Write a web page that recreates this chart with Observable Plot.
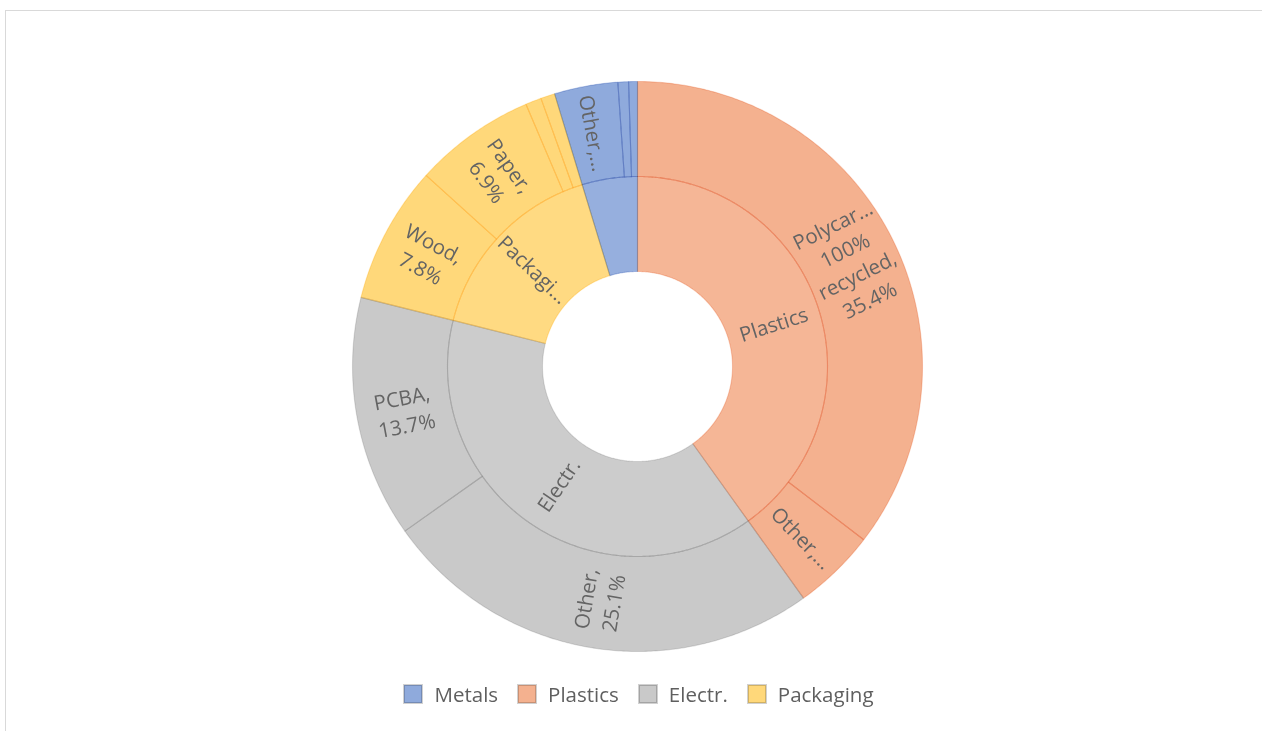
<!DOCTYPE html>
<html>
<head>
<meta charset="utf-8">
<script src="https://cdn.jsdelivr.net/npm/d3@7"></script>
<script src="https://cdn.jsdelivr.net/npm/@observablehq/plot@0.6"></script>
<style>
  html, body { margin: 0; padding: 0; background: #fff; }
  body { width: 1262px; height: 731px; position: relative; overflow: hidden; font-family: "Open Sans", sans-serif; }
  #frame { position: absolute; left: 5px; top: 10px; width: 1400px; height: 900px;
           border-left: 1px solid #d9d9d9; border-top: 1px solid #d9d9d9; }
  #chart { position: absolute; left: 0; top: 0; }
  #legend { position: absolute; left: 8px; top: 680px; width: 1262px; }
  #legend > div { justify-content: center; font: 20.5px "Open Sans", sans-serif !important; color: #5f5f5f !important; min-height: 28px !important; }
  #legend > div > span { margin-right: 20px !important; }
  #legend > div > span:last-child { margin-right: 0 !important; }
  #legend svg { margin-right: 12px !important; }
  #legend svg rect { stroke: rgba(0,0,0,0.18); stroke-width: 2px; }
</style>
</head>
<body>
<div id="frame"></div>
<div id="chart"></div>
<div id="legend"></div>
<script>
// ---- data ----
const groups = ["Metals", "Plastics", "Electr.", "Packaging"];
const groupFills = ["#8FAADC", "#F4B18F", "#C9C9C9", "#FFD87A"];

// inner ring, clockwise from 12 o'clock
const innerGroups = ["Plastics", "Electr.", "Packaging", "Metals"];
const innerLabels = ["Plastics", "Electr.", "Packagi...", ""];

// outer ring, clockwise from 12 o'clock
const itemGroups = ["Plastics", "Plastics", "Electr.", "Electr.", "Packaging", "Packaging", "Packaging", "Packaging", "Metals", "Metals", "Metals"];
const itemLabels = ["Polycar...\n100%\nrecycled,\n35.4%", "Other,...", "Other,\n25.1%", "PCBA,\n13.7%", "Wood,\n7.8%", "Paper,\n6.9%", "", "", "Other,...", "", ""];
const itemValues = [35.4, 4.7, 25.1, 13.7, 7.8, 6.9, 0.9, 0.8, 3.6, 0.6, 0.5];

// ---- geometry (unit radius) ----
const R_HOLE = 1 / 3, R_MID = 2 / 3, R_OUT = 1;
const total = d3.sum(itemValues);
let acc = 0;
const outerSegs = itemValues.map((v, i) => {
  const a0 = acc / total * 2 * Math.PI;
  acc += v;
  return { id: "o" + i, group: itemGroups[i], label: itemLabels[i], a0, a1: acc / total * 2 * Math.PI, r0: R_MID, r1: R_OUT };
});
const innerSegs = innerGroups.map((g, i) => {
  const mine = outerSegs.filter(s => s.group === g);
  return { id: "i" + i, group: g, label: innerLabels[i], a0: mine[0].a0, a1: mine[mine.length - 1].a1, r0: R_HOLE, r1: R_MID };
});

function polygon(s) {
  const n = Math.max(2, Math.ceil((s.a1 - s.a0) / (Math.PI / 360)));
  const pts = [];
  for (let k = 0; k <= n; k++) {
    const a = s.a0 + (s.a1 - s.a0) * k / n;
    pts.push({ id: s.id, group: s.group, x: s.r1 * Math.sin(a), y: -s.r1 * Math.cos(a) });
  }
  for (let k = n; k >= 0; k--) {
    const a = s.a0 + (s.a1 - s.a0) * k / n;
    pts.push({ id: s.id, group: s.group, x: s.r0 * Math.sin(a), y: -s.r0 * Math.cos(a) });
  }
  return pts;
}
function labelOf(s) {
  const a = (s.a0 + s.a1) / 2, r = (s.r0 + s.r1) / 2;
  let rot = a * 180 / Math.PI - 90;
  while (rot > 90) rot -= 180;
  while (rot < -90) rot += 180;
  return { text: s.label, x: r * Math.sin(a), y: -r * Math.cos(a), rotate: rot };
}

const innerPts = innerSegs.flatMap(polygon);
const outerPts = outerSegs.flatMap(polygon);
const labels = [...innerSegs, ...outerSegs].filter(s => s.label).map(labelOf);

const chart = Plot.plot({
  width: 1262,
  height: 672,
  margin: 0,
  style: { background: "transparent", overflow: "visible" },
  x: { domain: [-1, 1], range: [352, 922], axis: null },
  y: { domain: [-1, 1], range: [81, 651], axis: null },
  color: { domain: groups, range: groupFills },
  marks: [
    Plot.line(innerPts, { x: "x", y: "y", z: "id", fill: "group", fillOpacity: 0.94, stroke: "none", curve: "linear-closed" }),
    Plot.line(outerPts, { x: "x", y: "y", z: "id", fill: "group", stroke: "none", curve: "linear-closed" }),
    Plot.line([...innerPts, ...outerPts], { x: "x", y: "y", z: "id", fill: "none", stroke: "group", strokeWidth: 1.1, strokeOpacity: 0.55, mixBlendMode: "multiply", curve: "linear-closed" }),
    Plot.text(labels, { x: "x", y: "y", text: "text", rotate: "rotate", fontSize: 20.5, lineHeight: 1.36, fill: "#646464", fontFamily: "Open Sans" })
  ]
});
document.getElementById("chart").appendChild(chart);
document.getElementById("legend").appendChild(chart.legend("color", { swatchSize: 18 }));
</script>
</body>
</html>
